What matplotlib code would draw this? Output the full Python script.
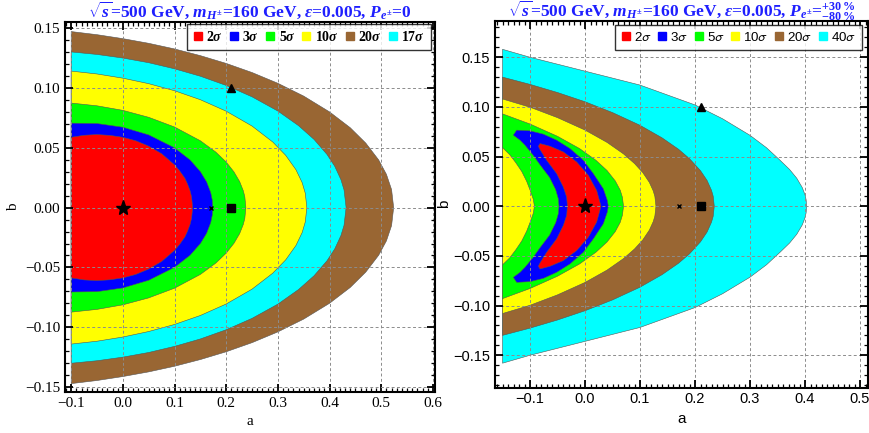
import numpy as np
import matplotlib.pyplot as plt
from matplotlib.lines import Line2D
from matplotlib.ticker import MultipleLocator, FuncFormatter
from matplotlib.font_manager import FontProperties

plt.rcParams['mathtext.fontset'] = 'custom'
plt.rcParams['mathtext.rm'] = 'Liberation Serif:bold'
plt.rcParams['mathtext.it'] = 'Liberation Serif:italic:bold'
plt.rcParams['mathtext.bf'] = 'Liberation Serif:bold'

# ---------------- data: contour boundaries (upper halves, mirrored in b) ----------------
# left panel, P=0
left_levels = ['20', '17', '10', '5', '3', '2']
left_colors = ['#996633', '#00ffff', '#ffff00', '#00ff00', '#0000ff', '#ff0000']
L_20s = [(-0.1, 0.147), (-0.05, 0.1444), (0.0, 0.1411), (0.05, 0.1372), (0.1, 0.1325), (0.15, 0.1269),
         (0.2, 0.1204), (0.25, 0.1128), (0.3, 0.1038), (0.35, 0.0931), (0.4, 0.0799), (0.44, 0.0667),
         (0.47, 0.0539), (0.495, 0.0398), (0.51, 0.0278), (0.52, 0.015), (0.524, 0.0)]
L_17s = [(-0.1, 0.130), (-0.05, 0.1279), (0.0, 0.1249), (0.05, 0.121), (0.1, 0.1159), (0.15, 0.1097),
         (0.2, 0.102), (0.25, 0.0925), (0.3, 0.0806), (0.34, 0.0684), (0.37, 0.0569), (0.395, 0.0444),
         (0.41, 0.0345), (0.422, 0.0233), (0.428, 0.0148), (0.432, 0.0)]
L_10s = [(-0.1, 0.114), (-0.05, 0.1116), (0.0, 0.1081), (0.05, 0.1035), (0.1, 0.0976), (0.15, 0.0901),
         (0.2, 0.0805), (0.25, 0.0681), (0.29, 0.0548), (0.315, 0.0437), (0.335, 0.0316), (0.347, 0.0208),
         (0.353, 0.012), (0.356, 0.0)]
L_5s = [(-0.1, 0.0873), (-0.05, 0.085), (0.0, 0.0812), (0.05, 0.0754), (0.1, 0.0673), (0.15, 0.0558),
        (0.18, 0.0463), (0.2, 0.038), (0.215, 0.0298), (0.226, 0.0217), (0.233, 0.0141), (0.236, 0.009),
        (0.238, 0.0)]
L_3s = [(-0.1, 0.0705), (-0.05, 0.0702), (0.0, 0.0671), (0.05, 0.0607), (0.1, 0.0499), (0.13, 0.0398),
        (0.15, 0.030), (0.162, 0.0215), (0.17, 0.0125), (0.173, 0.0063), (0.174, 0.0)]
L_2s = [(-0.1, 0.0587), (-0.075, 0.0604), (-0.05, 0.061), (-0.025, 0.0603), (0.0, 0.0587), (0.025, 0.0558),
        (0.05, 0.0513), (0.075, 0.045), (0.1, 0.0357), (0.11, 0.0306), (0.12, 0.0245), (0.125, 0.0198),
        (0.13, 0.0141), (0.133, 0.0089), (0.135, 0.0)]
left_bounds = [L_20s, L_17s, L_10s, L_5s, L_3s, L_2s]

# right panel, P = +30% / -80%
right_levels = ['40', '20', '10', '5', '3', '2']
right_colors = ['#00ffff', '#996633', '#ffff00', '#00ff00', '#0000ff', '#ff0000']
R_40s = [(-0.15, 0.158), (-0.1, 0.150), (-0.05, 0.143), (0.0, 0.136), (0.05, 0.129), (0.1, 0.122),
         (0.15, 0.112), (0.2, 0.102), (0.25, 0.0881), (0.3, 0.0714), (0.33, 0.0589), (0.355, 0.0461),
         (0.372, 0.037), (0.385, 0.0282), (0.395, 0.0188), (0.4, 0.0115), (0.402, 0.0066), (0.403, 0.0)]
R_20s = [(-0.15, 0.130), (-0.1, 0.1227), (-0.05, 0.1145), (0.0, 0.1052), (0.05, 0.0943), (0.1, 0.0815),
         (0.14, 0.0689), (0.17, 0.0574), (0.19, 0.0479), (0.21, 0.0358), (0.222, 0.0259), (0.23, 0.016),
         (0.233, 0.0102), (0.235, 0.0)]
R_10s = [(-0.15, 0.108), (-0.1, 0.0997), (-0.05, 0.0892), (0.0, 0.0767), (0.04, 0.0643), (0.07, 0.0527),
         (0.09, 0.043), (0.105, 0.0339), (0.117, 0.024), (0.124, 0.0155), (0.127, 0.0099), (0.129, 0.0)]
R_5s_out = [(-0.15, 0.093), (-0.1, 0.0828), (-0.05, 0.0704), (-0.01, 0.0581), (0.02, 0.0462), (0.04, 0.036),
            (0.055, 0.0255), (0.064, 0.0162), (0.068, 0.009), (0.07, 0.0)]
R_5s_in = [(-0.15, 0.059), (-0.137, 0.052), (-0.126, 0.044), (-0.115, 0.035), (-0.106, 0.025),
           (-0.099, 0.015), (-0.094, 0.007), (-0.092, 0.0)]
R_3s_out = [(0.0424, 0.0), (0.0406, 0.0058), (0.0333, 0.0176), (0.0152, 0.0328), (-0.003, 0.0463),
            (-0.0273, 0.0581), (-0.0515, 0.0665), (-0.0758, 0.0726), (-0.1, 0.0759), (-0.1242, 0.0766),
            (-0.1303, 0.0716)]
R_3s_in = [(-0.118, 0.0665), (-0.109, 0.0614), (-0.095, 0.052), (-0.0813, 0.0414), (-0.0644, 0.0291),
           (-0.0533, 0.0167), (-0.0485, 0.0075), (-0.0473, 0.0)]
R_2s_out = [(0.0291, 0.0), (0.0212, 0.0159), (0.0061, 0.0311), (-0.0152, 0.0446), (-0.0394, 0.0547),
            (-0.0636, 0.0604), (-0.0818, 0.0631), (-0.0848, 0.0604)]
R_2s_in = [(-0.0818, 0.0571), (-0.0697, 0.0463), (-0.0515, 0.0328), (-0.0394, 0.0193), (-0.0333, 0.0091),
           (-0.0321, 0.0)]

# benchmark points
star_pt = (0.0, 0.0)
cross_pt = (0.17, 0.0)
square_pt = (0.21, 0.0)
tri_pt = (0.21, 0.10)


def mirror(pts):
    return [(a, -b) for a, b in pts]


def half_closed(upper):
    return np.array(upper + mirror(upper[::-1]))


def crescent(outer, inner):
    # outer: from b=0 up to horn, inner: from horn down to b=0
    return np.array(outer + inner + mirror(inner[::-1]) + mirror(outer[::-1]))


def green_band(outer, inner):
    pts = outer + mirror(outer[::-1]) + mirror(inner) + inner[::-1]
    return np.array(pts)


def frame(ax, xmaj, ymaj, lab_font, lab_size):
    ax.xaxis.set_major_locator(MultipleLocator(xmaj))
    ax.xaxis.set_minor_locator(MultipleLocator(0.01))
    ax.yaxis.set_major_locator(MultipleLocator(ymaj))
    ax.yaxis.set_minor_locator(MultipleLocator(0.01))
    ax.xaxis.set_major_formatter(FuncFormatter(lambda v, p: ('%.1f' % (v + 0.0)).replace('-', '\u2212')))
    ax.yaxis.set_major_formatter(FuncFormatter(lambda v, p: ('%.2f' % (v + 0.0)).replace('-', '\u2212')))
    ax.tick_params(which='both', direction='in', top=True, right=True)
    ax.tick_params(which='major', length=6, width=1.3, labelsize=lab_size)
    ax.tick_params(which='minor', length=3, width=0.9)
    for lab in ax.get_xticklabels() + ax.get_yticklabels():
        lab.set_fontfamily(lab_font)
    for s in ax.spines.values():
        s.set_linewidth(1.5)
    ax.grid(True, which='major', ls=(0, (3, 2.5)), color='0.55', lw=0.7)
    ax.set_axisbelow(False)
    ax.plot(*star_pt, marker='*', color='k', ms=11, ls='', zorder=6)
    ax.plot(*cross_pt, marker='x', color='k', ms=3.5, mew=1.0, ls='', zorder=6)
    ax.plot(*square_pt, marker='s', color='k', ms=5.5, ls='', zorder=6)
    ax.plot(*tri_pt, marker='^', color='k', ms=6, ls='', zorder=6)


fig = plt.figure(figsize=(8.7, 4.33), dpi=100)
ax1 = fig.add_axes([0.0747, 0.0947, 0.4253, 0.8545])
ax2 = fig.add_axes([0.569, 0.105, 0.4287, 0.8465])

title_col = '#1f1fff'
title_kw = dict(color=title_col, fontsize=12.5, fontweight='bold', family='Liberation Serif',
                ha='center', va='baseline')
leg_kw = dict(ncol=6, loc='upper right', frameon=True, fancybox=False, edgecolor='k',
              handlelength=0.7, handletextpad=0.25, columnspacing=0.45, borderpad=0.45, borderaxespad=0.0)

# ---------- left ----------
for pts, c in zip(left_bounds, left_colors):
    ax1.fill(*half_closed(pts).T, facecolor=c, edgecolor='#555555', lw=0.4, zorder=1)
ax1.set_xlim(-0.112, 0.604)
ax1.set_ylim(-0.154, 0.155)
frame(ax1, 0.1, 0.05, 'Liberation Serif', 11)
ax1.set_xlabel('a', family='Liberation Serif', fontsize=11, labelpad=4)
ax1.set_ylabel('b', family='Liberation Serif', fontsize=11)
ax1.yaxis.set_label_coords(-0.122, 0.5)
ax1.text(0.5, 1.014, r'$\sqrt{s}$=500 GeV, $m_{H^{\pm}}$=160 GeV, $\epsilon$=0.005, $P_{e^{\pm}}$=0',
         transform=ax1.transAxes, **title_kw)
order_l = [5, 4, 3, 2, 0, 1]
h1 = [Line2D([], [], marker='s', ls='', color=left_colors[i], ms=5.5,
             label=left_levels[i] + r'$\sigma$') for i in order_l]
leg1 = ax1.legend(handles=h1, bbox_to_anchor=(0.989, 0.995),
                  prop=FontProperties(family='Liberation Serif', weight='bold', size=10), **leg_kw)
leg1.get_frame().set_linewidth(1.0)
leg1.set_zorder(10)

# ---------- right ----------
ax2.fill(*half_closed(R_40s).T, facecolor=right_colors[0], edgecolor='#555555', lw=0.4, zorder=1)
ax2.fill(*half_closed(R_20s).T, facecolor=right_colors[1], edgecolor='#555555', lw=0.4, zorder=1)
ax2.fill(*half_closed(R_10s).T, facecolor=right_colors[2], edgecolor='#555555', lw=0.4, zorder=1)
ax2.fill(*green_band(R_5s_out, R_5s_in).T, facecolor=right_colors[3], edgecolor='#555555', lw=0.4, zorder=1)
ax2.fill(*crescent(R_3s_out, R_3s_in).T, facecolor=right_colors[4], edgecolor='#555555', lw=0.4, zorder=1)
ax2.fill(*crescent(R_2s_out, R_2s_in).T, facecolor=right_colors[5], edgecolor='#555555', lw=0.4, zorder=1)
ax2.set_xlim(-0.1636, 0.5145)
ax2.set_ylim(-0.1825, 0.1865)
frame(ax2, 0.1, 0.05, 'Liberation Sans', 10.5)
ax2.set_xlabel('a', family='Liberation Sans', fontsize=11, labelpad=4)
ax2.set_ylabel('b', family='Liberation Sans', fontsize=11)
ax2.yaxis.set_label_coords(-0.117, 0.5)
ax2.text(0.5, 1.011,
         r'$\sqrt{s}$=500 GeV, $m_{H^{\pm}}$=160 GeV, $\epsilon$=0.005, $P_{e^{\pm}}$=$^{+30\,\%}_{-80\,\%}$',
         transform=ax2.transAxes, **title_kw)
order_r = [5, 4, 3, 2, 1, 0]
h2 = [Line2D([], [], marker='s', ls='', color=right_colors[i], ms=5.5,
             label=right_levels[i] + r'$\sigma$') for i in order_r]
leg2 = ax2.legend(handles=h2, bbox_to_anchor=(0.984, 0.989),
                  prop=FontProperties(family='Liberation Sans', size=9.6, math_fontfamily='stixsans'),
                  **leg_kw)
leg2.get_frame().set_linewidth(1.0)
leg2.set_zorder(10)

fig.savefig('out.png', dpi=100)
